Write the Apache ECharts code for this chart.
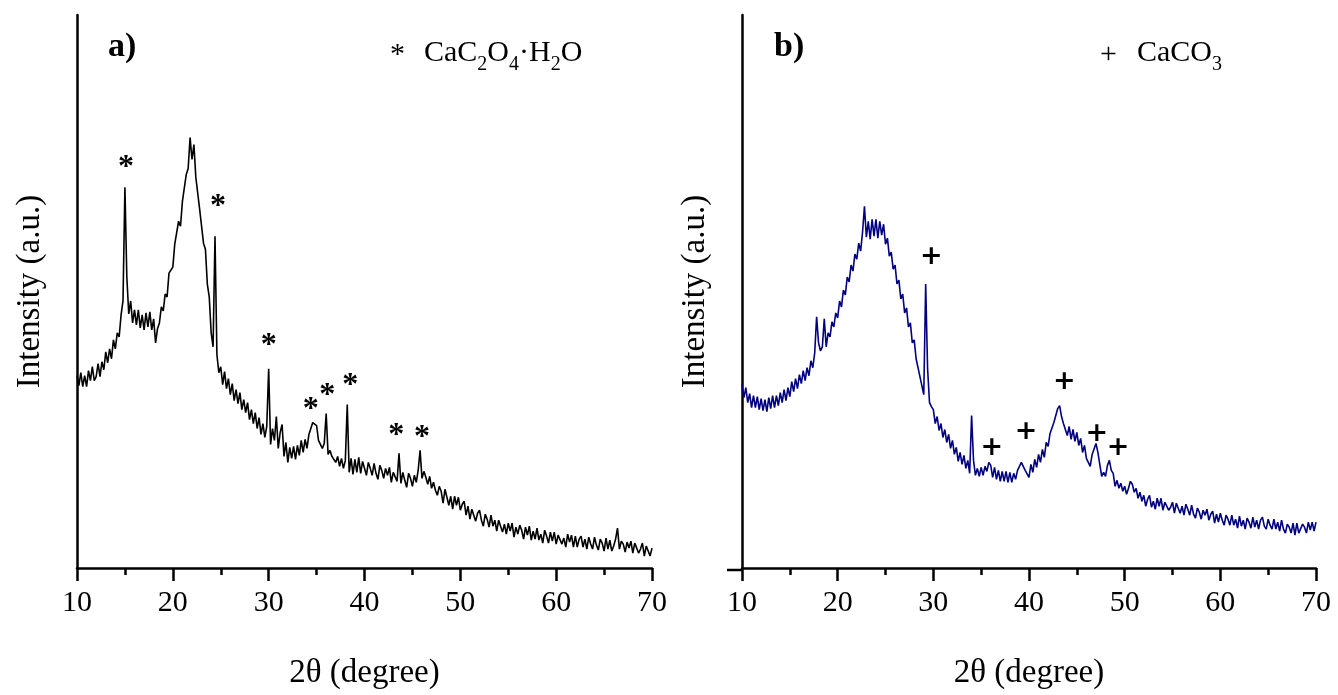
<!DOCTYPE html>
<html><head><meta charset="utf-8">
<script src="https://cdn.jsdelivr.net/npm/echarts@6/dist/echarts.min.js"></script>
<style>html,body{margin:0;padding:0;background:#fff}#c{width:1338px;height:695px}</style>
</head><body><div id="c"></div>
<script>
// sampling grid of the scans (2θ, degrees)
const angleStart = 10, angleStep = 0.2;
const xTicks = [10, 20, 30, 40, 50, 60, 70];

// panel a) intensities (a.u.), 10.0 → 70.0 every 0.2°
const intensityA = [
193,183,196,182,193,182,198,188,202,188,
192,205,192,207,199,217,206,220,210,229,
220,236,232,254,268,382,292,255,268,246,
259,244,259,241,254,239,256,242,257,239,
250,226,240,246,262,258,275,272,296,298,
302,325,323,348,343,368,367,395,401,432,
410,425,392,390,360,358,326,320,285,272,
236,222,333,214,196,202,184,197,180,190,
174,185,168,179,165,176,159,169,156,166,
149,159,145,156,140,151,134,145,131,142,
200,124,140,128,152,120,136,144,112,126,
106,121,110,122,109,123,113,128,116,129,
120,134,132,146,147,143,128,128,120,125,
155,114,118,112,114,106,112,102,110,100,
108,164,96,110,94,109,96,111,95,107,
105,93,106,100,93,105,95,89,103,98,
90,100,93,101,86,96,98,87,115,85,
96,88,81,95,90,82,93,86,98,118,
90,97,91,84,92,80,86,78,73,82,
77,65,79,71,63,72,59,72,63,71,
58,64,67,53,62,49,59,61,47,55,
58,48,42,54,49,41,53,42,48,37,
48,50,36,44,34,45,37,45,31,41,
34,43,38,29,41,33,42,28,37,29,
40,28,34,25,38,32,25,36,27,36,
24,33,35,24,30,21,34,26,33,21,
32,21,29,32,21,29,19,31,24,19,
31,23,18,29,25,17,30,19,28,17,
22,29,40,19,27,24,16,26,20,27,
15,25,26,15,19,25,12,22,24,12,
20];

// panel b) intensities (a.u.), 10.0 → 70.0 every 0.2°
const intensityB = [
184,171,181,166,175,161,173,161,172,159,
170,158,169,157,171,160,173,161,173,163,
176,166,179,168,181,172,187,177,190,180,
194,185,198,188,201,193,208,201,216,252,
226,218,222,250,222,236,232,247,242,256,
251,268,262,279,274,292,287,304,298,315,
310,326,318,337,363,332,348,330,350,333,
350,331,348,334,345,325,331,313,317,300,
304,285,289,270,275,256,261,242,246,226,
229,210,211,192,194,174,285,200,166,162,
159,145,152,138,145,131,139,126,134,120,
128,114,121,107,116,104,113,100,108,95,
153,108,93,100,92,101,93,102,97,106,
103,91,101,89,98,87,97,87,97,86,
96,86,95,89,98,96,106,108,98,100,
91,104,96,109,101,114,106,119,111,126,
122,135,133,146,146,160,163,152,145,144,
133,142,129,139,127,136,123,130,116,123,
110,112,102,114,114,125,116,104,92,96,
92,103,108,98,95,82,88,80,85,77,
82,74,80,87,84,76,80,70,76,67,
73,62,69,73,61,67,59,70,62,70,
58,66,68,58,61,66,55,65,66,55,
62,53,64,59,53,63,54,50,60,56,
49,58,53,59,48,54,57,45,54,46,
55,48,43,53,49,43,53,43,49,40,
52,42,48,39,50,46,40,51,41,48,
39,48,51,42,39,49,43,39,49,39,
46,37,48,39,35,44,41,35,45,33,
45,35,33,44,41,35,46,38,46,37,
46];

// peak markers: CaC2O4·H2O (*) in a), CaCO3 (+) in b)
const starX = [15.1, 24.7, 30.0, 34.4, 36.1, 38.5, 43.3, 46.0];
const starY = [409, 370, 230, 166, 180, 190, 140, 138];
const plusX = [29.8, 36.1, 39.7, 43.7, 47.1, 49.3];
const plusY = [312, 120, 137, 187, 135, 120];

const FONT = '"Liberation Serif", "Times New Roman", serif';
const toPairs = arr => arr.map((v, i) => [+(angleStart + i * angleStep).toFixed(1), v]);
const zip = (xs, ys) => xs.map((x, i) => [x, ys[i]]);

const chart = echarts.init(document.getElementById('c'), null, {renderer: 'canvas'});

function xAxisFor(gi) {
  return {
    gridIndex: gi, type: 'value', min: xTicks[0], max: xTicks[xTicks.length - 1], interval: 10,
    name: '2θ (degree)', nameLocation: 'middle', nameGap: 89,
    nameTextStyle: {fontFamily: FONT, fontSize: 33, color: '#000'},
    axisLine: {show: true, onZero: false, lineStyle: {color: '#000', width: 2.5}},
    axisTick: {show: true, inside: false, length: 13, lineStyle: {color: '#000', width: 2.5}},
    minorTick: {show: true, splitNumber: 2, length: 7, lineStyle: {color: '#000', width: 2.5}},
    axisLabel: {fontFamily: FONT, fontSize: 30, color: '#000', margin: 20},
    splitLine: {show: false}
  };
}
function yAxisFor(gi) {
  return {
    gridIndex: gi, type: 'value', min: 0, max: 555,
    name: 'Intensity (a.u.)', nameLocation: 'middle', nameGap: 30, nameRotate: 90,
    nameTextStyle: {fontFamily: FONT, fontSize: 33, color: '#000'},
    axisLine: {show: true, lineStyle: {color: '#000', width: 2.5}},
    axisTick: {show: false}, axisLabel: {show: false}, splitLine: {show: false}
  };
}

chart.setOption({
  backgroundColor: '#fff',
  animation: false,
  grid: [
    {left: 77, top: 15, width: 575, height: 555},
    {left: 742, top: 15, width: 574, height: 555}
  ],
  xAxis: [xAxisFor(0), xAxisFor(1)],
  yAxis: [yAxisFor(0), yAxisFor(1)],
  series: [
    {type: 'line', xAxisIndex: 0, yAxisIndex: 0, data: toPairs(intensityA), showSymbol: false,
     lineStyle: {color: '#000', width: 1.6}, silent: true},
    {type: 'line', xAxisIndex: 1, yAxisIndex: 1, data: toPairs(intensityB), showSymbol: false,
     lineStyle: {color: '#000080', width: 1.6}, silent: true},
    {type: 'scatter', xAxisIndex: 0, yAxisIndex: 0, data: zip(starX, starY), symbolSize: 0,
     itemStyle: {opacity: 1},
     label: {show: true, position: 'inside', formatter: '*', fontFamily: FONT, fontSize: 32, fontWeight: 'bold', color: '#000', opacity: 1, offset: [0, 7]}},
    {type: 'scatter', xAxisIndex: 1, yAxisIndex: 1, data: zip(plusX, plusY), symbolSize: 0,
     itemStyle: {opacity: 1},
     label: {show: true, position: 'inside', formatter: '+', fontFamily: '"DejaVu Sans", sans-serif', fontSize: 27, fontWeight: 'bold', color: '#000', opacity: 1, offset: [0, 0]}}
  ],
  graphic: [
    {type: 'text', left: 108, top: 30, style: {text: 'a)', font: 'bold 34px ' + FONT, fill: '#000'}},
    {type: 'text', left: 774, top: 30, style: {text: 'b)', font: 'bold 34px ' + FONT, fill: '#000'}},
    {type: 'text', left: 390, top: 40, style: {text: '*', font: '30px ' + FONT, fill: '#000'}},
    {type: 'text', left: 424, top: 38, style: {
      text: '{m|CaC}{s|2}{m|O}{s|4}{m|·H}{s|2}{m|O}', fontFamily: FONT, fill: '#000',
      rich: {m: {fontSize: 30, fontFamily: FONT, verticalAlign: 'top', lineHeight: 30},
             s: {fontSize: 20, fontFamily: FONT, verticalAlign: 'bottom', lineHeight: 37}}}},
    {type: 'text', left: 1100, top: 40, style: {text: '+', font: '30px ' + FONT, fill: '#000'}},
    {type: 'text', left: 1137, top: 38, style: {
      text: '{m|CaCO}{s|3}', fontFamily: FONT, fill: '#000',
      rich: {m: {fontSize: 30, fontFamily: FONT, verticalAlign: 'top', lineHeight: 30},
             s: {fontSize: 20, fontFamily: FONT, verticalAlign: 'bottom', lineHeight: 37}}}},
    {type: 'line', shape: {x1: 727, y1: 570, x2: 742, y2: 570}, style: {stroke: '#000', lineWidth: 2.5}}
  ]
});
</script>
</body></html>
